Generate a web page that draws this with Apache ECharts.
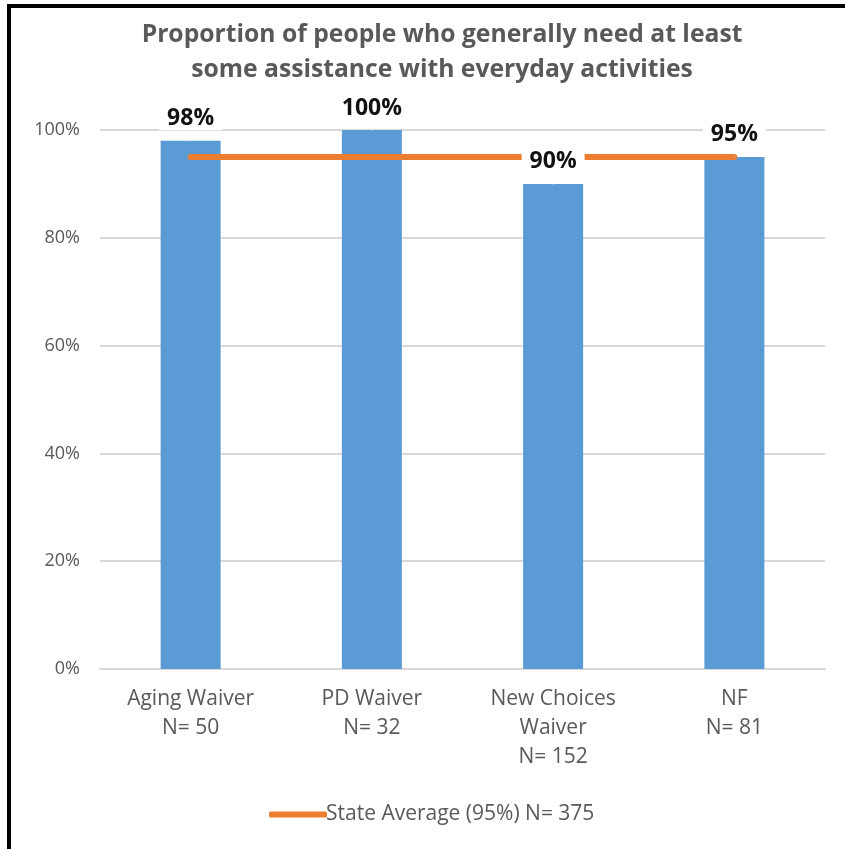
<!DOCTYPE html>
<html>
<head>
<meta charset="utf-8">
<script src="https://cdn.jsdelivr.net/npm/echarts@6/dist/echarts.min.js"></script>
<style>
html,body{margin:0;padding:0;background:#fff;}
#c{width:845px;height:849px;}
</style>
</head>
<body>
<div id="c"></div>
<script>
const categories = ['Aging Waiver\nN= 50', 'PD Waiver\nN= 32', 'New Choices\nWaiver\nN= 152', 'NF\nN= 81'];
const barValues = [98, 100, 90, 95];
const stateAverage = [95, 95, 95, 95];
const stateName = 'State Average (95%) N= 375';
const yTicks = [0, 20, 40, 60, 80, 100];

const FONT = 'Open Sans';
const chart = echarts.init(document.getElementById('c'), null, {renderer: 'canvas'});
chart.setOption({
  backgroundColor: '#fff',
  animation: false,
  textStyle: {fontFamily: FONT},
  title: {
    text: 'Proportion of people who generally need at least\nsome assistance with everyday activities',
    left: 437, top: 12, textAlign: 'center',
    textStyle: {fontFamily: FONT, fontSize: 24.7, fontWeight: 'bold', color: '#595959', lineHeight: 35}
  },
  grid: {left: 100, right: 20, top: 130, bottom: 180, containLabel: false},
  legend: {
    left: 264, top: 799,
    itemWidth: 58, itemHeight: 6, itemGap: 10,
    icon: 'roundRect',
    data: [stateName],
    textStyle: {fontFamily: FONT, fontSize: 21, color: '#595959', padding: [0, 0, 0, -6]}
  },
  xAxis: {
    type: 'category',
    data: categories,
    axisTick: {show: false},
    axisLine: {lineStyle: {color: '#D9D9D9', width: 2}},
    axisLabel: {fontFamily: FONT, fontSize: 21, color: '#595959', lineHeight: 29, margin: 16, interval: 0}
  },
  yAxis: {
    type: 'value', min: 0, max: 100, interval: 20,
    axisLine: {show: false}, axisTick: {show: false},
    splitLine: {lineStyle: {color: '#D9D9D9', width: 2}},
    axisLabel: {fontFamily: FONT, fontSize: 18, color: '#595959', margin: 20,
      formatter: v => yTicks.includes(v) ? v + '%' : ''}
  },
  series: [
    {
      type: 'bar', name: 'Proportion', data: barValues, barWidth: 60,
      itemStyle: {color: '#5B9BD5'}, z: 2
    },
    {
      type: 'line', name: stateName, data: stateAverage,
      symbol: 'none', z: 3,
      lineStyle: {color: '#ED7D31', width: 6, cap: 'round'},
      itemStyle: {color: '#ED7D31'}
    },
    {
      type: 'scatter', name: 'labels', data: barValues, symbolSize: 1,
      itemStyle: {color: '#fff', opacity: 1}, z: 10, silent: true,
      label: {
        show: true, position: 'top', distance: 10,
        formatter: p => p.value + '%',
        fontFamily: FONT, fontSize: 23, fontWeight: 'bold', color: '#111',
        backgroundColor: '#fff', padding: [0, 8]
      }
    }
  ],
  graphic: [
    {type: 'rect', shape: {x: 7, y: 4, width: 4, height: 845}, style: {fill: '#000'}, silent: true},
    {type: 'rect', shape: {x: 7, y: 4, width: 838, height: 4}, style: {fill: '#000'}, silent: true}
  ]
});
</script>
</body>
</html>
